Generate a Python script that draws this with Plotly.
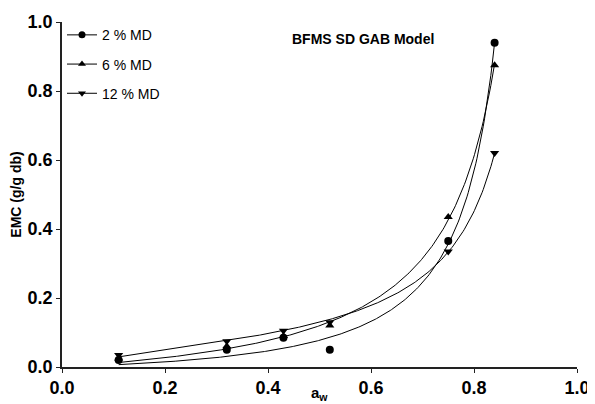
import numpy as np
import plotly.graph_objects as go

aw = [0.11, 0.32, 0.43, 0.52, 0.75, 0.84]
emc_2 = [0.020, 0.050, 0.085, 0.050, 0.365, 0.940]
emc_6 = [0.025, 0.060, 0.090, 0.120, 0.435, 0.875]
emc_12 = [0.035, 0.075, 0.105, 0.130, 0.335, 0.620]

series_names = ["2 % MD", "6 % MD", "12 % MD"]
symbols = ["circle", "triangle-up", "triangle-down"]

# GAB fit parameters (Mo, C, K) estimated from the drawn curves
gab_params = [(0.094, 0.5, 1.09), (0.121, 0.8, 1.05), (0.0756, 4.0, 1.05)]

xticks = [0.0, 0.2, 0.4, 0.6, 0.8, 1.0]
yticks = [0.0, 0.2, 0.4, 0.6, 0.8, 1.0]


def gab(a, mo, c, k):
    return mo * c * k * a / ((1 - k * a) * (1 - k * a + c * k * a))


FONT = "Liberation Sans, Arial, sans-serif"

fig = go.Figure()
a_fit = np.linspace(min(aw), max(aw), 300)
for (mo, c, k) in gab_params:
    fig.add_trace(go.Scatter(x=a_fit, y=gab(a_fit, mo, c, k), mode="lines",
                             line=dict(color="black", width=1), showlegend=False,
                             hoverinfo="skip"))

for name, sym, vals in zip(series_names, symbols, [emc_2, emc_6, emc_12]):
    fig.add_trace(go.Scatter(x=aw, y=vals, mode="markers", showlegend=False,
                             marker=dict(symbol=sym, size=8, color="black"),
                             cliponaxis=False))
    fig.add_trace(go.Scatter(x=[None], y=[None], mode="lines+markers", name=name,
                             legendgroup=name,
                             marker=dict(symbol=sym, size=7, color="black"),
                             line=dict(color="black", width=1)))

axis_common = dict(showline=True, linecolor="#222", linewidth=1.5, ticks="outside",
                   ticklen=4, tickcolor="#222", showgrid=False, zeroline=False,
                   tickformat=".1f", automargin=False,
                   tickfont=dict(family=FONT, size=18, color="black", weight=700))

fig.update_layout(
    width=587, height=396,
    margin=dict(l=54, r=18, t=13, b=37),
    plot_bgcolor="white", paper_bgcolor="white",
    xaxis=dict(range=[0, 1], tickvals=xticks, **axis_common),
    yaxis=dict(range=[0, 1], tickvals=yticks, **axis_common,
               title=dict(text="EMC (g/g db)", standoff=6,
                          font=dict(family=FONT, size=14, color="black", weight=700))),
    legend=dict(x=0.0, y=1.005, xanchor="left", yanchor="top", tracegroupgap=8,
                font=dict(family=FONT, size=14, color="black"),
                bgcolor="rgba(0,0,0,0)"),
    annotations=[
        dict(text="<b>BFMS SD GAB Model</b>", x=0.584, y=0.951, xref="x", yref="y",
             showarrow=False, font=dict(family=FONT, size=14, color="black")),
        dict(text="<b>a<sub>w</sub></b>", x=0.5, y=-0.078, xref="x", yref="paper",
             yanchor="middle", showarrow=False,
             font=dict(family=FONT, size=15, color="black")),
    ],
)

fig.write_html("out.html")
